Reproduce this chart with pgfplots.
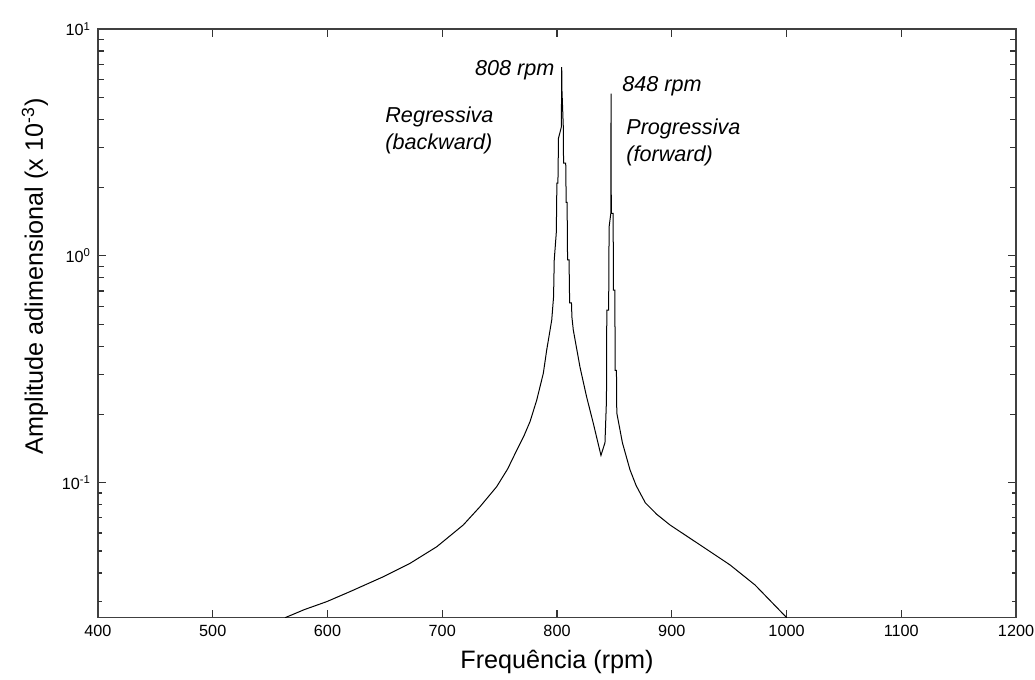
\documentclass[border=0pt]{standalone}
\usepackage{pgfplots}
\pgfplotsset{compat=1.18}
\usepackage{fontspec}
\setmainfont{Liberation Sans}
\pgfplotstableread{
x y
563.0 0.0254
580.0 0.0276
599.3 0.0299
619.6 0.0331
648.6 0.0385
671.9 0.0441
695.2 0.0522
718.3 0.0651
733.0 0.0785
747.4 0.0960
757.0 0.115
764.9 0.139
771.0 0.160
776.5 0.186
782.3 0.231
788.1 0.304
791.0 0.384
795.4 0.521
797.0 0.66
797.6 0.96
799.4 1.27
799.9 2.09
800.8 2.09
801.3 3.30
803.8 3.70
804.1 6.80
804.3 5.40
805.5 3.69
805.7 2.56
807.6 2.56
808.0 1.72
808.8 1.72
809.2 0.96
810.5 0.96
811.0 0.62
812.6 0.62
813.0 0.537
814.2 0.471
820.0 0.324
825.8 0.239
831.6 0.183
838.3 0.132
841.8 0.150
843.1 0.231
843.4 0.576
845.0 0.576
845.4 1.34
846.9 1.54
847.1 5.19
847.3 1.54
848.9 1.54
849.2 0.706
850.4 0.706
850.7 0.313
851.8 0.313
852.1 0.203
857.0 0.150
863.6 0.114
869.0 0.097
877.0 0.0815
887.0 0.0725
898.5 0.0651
924.6 0.0532
950.8 0.0434
972.6 0.0354
1000.2 0.0254
}\curve
\begin{document}
\begin{tikzpicture}
\begin{axis}[
  name=ax,
  scale only axis,
  width=459pt, height=294.35pt,
  ymode=log,
  xmin=400, xmax=1200,
  ymin=0.0254, ymax=10,
  xtick={400,500,...,1200},
  ytick={0.1,1,10},
  yticklabels={10\textsuperscript{-1},10\textsuperscript{0},10\textsuperscript{1}},
  extra y ticks={0.03,0.04,0.05,0.06,0.07,0.08,0.09,0.2,0.3,0.4,0.5,0.6,0.7,0.8,0.9,2,3,4,5,6,7,8,9},
  extra y tick labels={},
  extra y tick style={major tick length=2pt},
  tick align=inside,
  major tick length=4pt,
  axis line style={draw=black!75, line width=0.75pt},
  every tick/.style={black!80, line width=0.6pt},
  /pgf/number format/assume math mode=true,
  /pgf/number format/set thousands separator={},
  tick label style={font=\fontsize{8.1}{9.5}\selectfont},
  xlabel={Frequência (rpm)},
  ylabel={Amplitude adimensional (x 10\textsuperscript{-3})},
  label style={font=\fontsize{12.6}{14}\selectfont},
  xlabel style={at={(axis description cs:0.5,0)}, anchor=center, yshift=-22pt},
  ylabel style={at={(axis description cs:-0.0686,0.58)}, anchor=center},
  clip=true,
]
\addplot[black, line width=0.5pt] table[x=x, y=y] {\curve};
\node[anchor=east, inner sep=0pt, font=\itshape\fontsize{10.8}{12}\selectfont] at (axis cs:798,6.58) {808 rpm};
\node[anchor=west, inner sep=0pt, font=\itshape\fontsize{10.8}{12}\selectfont] at (axis cs:856.6,5.59) {848 rpm};
\node[anchor=west, inner sep=0pt, align=left, font=\itshape\fontsize{10.8}{13.5}\selectfont] at (axis cs:650.1,3.57) {Regressiva\\(backward)};
\node[anchor=west, inner sep=0pt, align=left, font=\itshape\fontsize{10.8}{13.5}\selectfont] at (axis cs:860.1,3.15) {Progressiva\\(forward)};
\end{axis}
\pgfresetboundingbox
\useasboundingbox ([shift={(-49pt,-31pt)}]ax.south west) rectangle ([shift={(9.5pt,14.5pt)}]ax.north east);
\end{tikzpicture}
\end{document}
